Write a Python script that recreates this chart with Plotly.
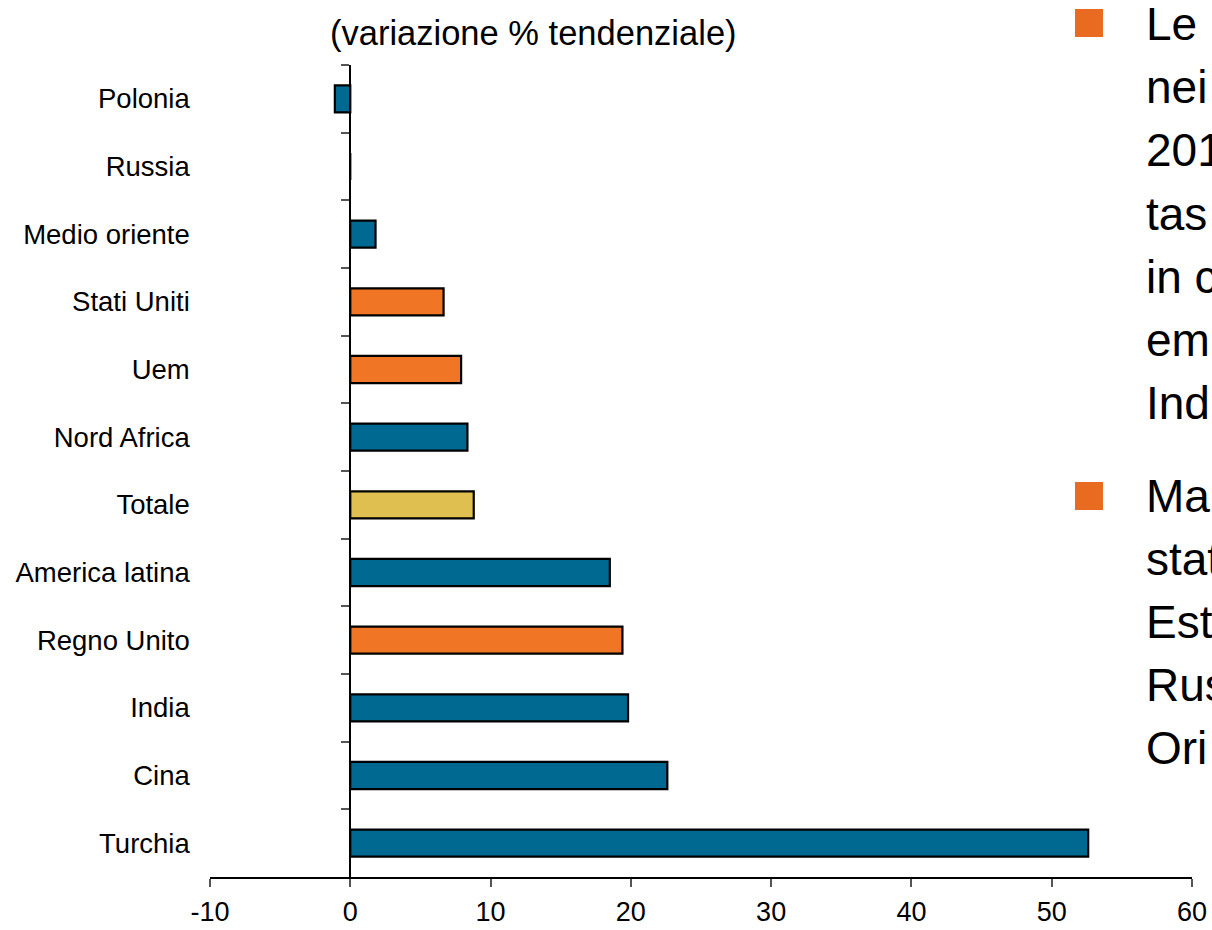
import plotly.graph_objects as go

# Categories listed from top to bottom
categories = ["Polonia", "Russia", "Medio oriente", "Stati Uniti", "Uem", "Nord Africa",
              "Totale", "America latina", "Regno Unito", "India", "Cina", "Turchia"]
values = [-1.1, 0.0, 1.8, 6.65, 7.9, 8.35, 8.8, 18.5, 19.4, 19.8, 22.6, 52.6]
groups = ["em", "em", "em", "adv", "adv", "em", "tot", "em", "adv", "em", "em", "em"]

x_ticks = [-10, 0, 10, 20, 30, 40, 50, 60]

bullet_lines_1 = ["Le", "nei", "201", "tas", "in c", "em", "Ind"]
bullet_lines_2 = ["Ma", "stat", "Est", "Rus", "Ori"]

PALETTE = {"em": "#006991", "adv": "#F07524", "tot": "#DFBF4F"}
BULLET = "#E96A21"
FONT = "Arial, Liberation Sans, sans-serif"

W, H = 1212, 930
L, R, T, B = 210, 1192, 65, 877


def px_x(px):
    return (px - L) / (R - L)


def px_y(py):
    return (B - py) / (B - T)


fig = go.Figure()
fig.add_trace(go.Bar(
    x=values, y=categories, orientation="h", width=0.4,
    marker=dict(color=[PALETTE[g] for g in groups], line=dict(color="black", width=2.2)),
    hoverinfo="x+y", showlegend=False,
))

annotations = [dict(
    text="(variazione % tendenziale)", xref="paper", yref="paper",
    x=px_x(533), y=px_y(33), xanchor="center", yanchor="middle", showarrow=False,
    font=dict(size=34.5, color="black", family=FONT),
)]

for i, line in enumerate(bullet_lines_1):
    annotations.append(dict(
        text=line, xref="paper", yref="paper", x=px_x(1144), y=px_y(24 + 63.2 * i),
        xanchor="left", yanchor="middle", showarrow=False,
        font=dict(size=46, color="black", family=FONT),
    ))
for i, line in enumerate(bullet_lines_2):
    annotations.append(dict(
        text=line, xref="paper", yref="paper", x=px_x(1144), y=px_y(496 + 63 * i),
        xanchor="left", yanchor="middle", showarrow=False,
        font=dict(size=46, color="black", family=FONT),
    ))

shapes = []
for top in (9, 482):
    shapes.append(dict(
        type="rect", xref="paper", yref="paper",
        x0=px_x(1075), x1=px_x(1103), y0=px_y(top + 28), y1=px_y(top),
        fillcolor=BULLET, line=dict(width=0),
    ))

fig.update_layout(
    width=W, height=H,
    margin=dict(l=L, r=W - R, t=T, b=H - B, pad=0, autoexpand=False),
    paper_bgcolor="white", plot_bgcolor="white",
    font=dict(family=FONT, color="black"),
    bargap=0.6,
    xaxis=dict(
        range=[-10, 60], tickvals=x_ticks, ticktext=[str(v) for v in x_ticks],
        showgrid=False, zeroline=False, automargin=False,
        showline=True, linecolor="black", linewidth=1.5,
        ticks="outside", ticklen=8, tickcolor="#555", tickwidth=1.5,
        ticklabelstandoff=2,
        tickfont=dict(size=27, color="black"),
    ),
    # Category axis drawn along x = 0, ticks between categories, labels pushed to the left
    yaxis=dict(
        type="category", categoryorder="array", categoryarray=categories,
        autorange="reversed", showgrid=False, zeroline=False, automargin=False,
        anchor="free", position=10 / 70, side="left",
        showline=True, linecolor="black", linewidth=2,
        ticks="outside", tickson="boundaries", ticklen=8, tickcolor="#555", tickwidth=1.5,
        ticklabelstandoff=154,
        tickfont=dict(size=27.5, color="black"),
    ),
    annotations=annotations,
    shapes=shapes,
)

fig.write_html("out.html")
